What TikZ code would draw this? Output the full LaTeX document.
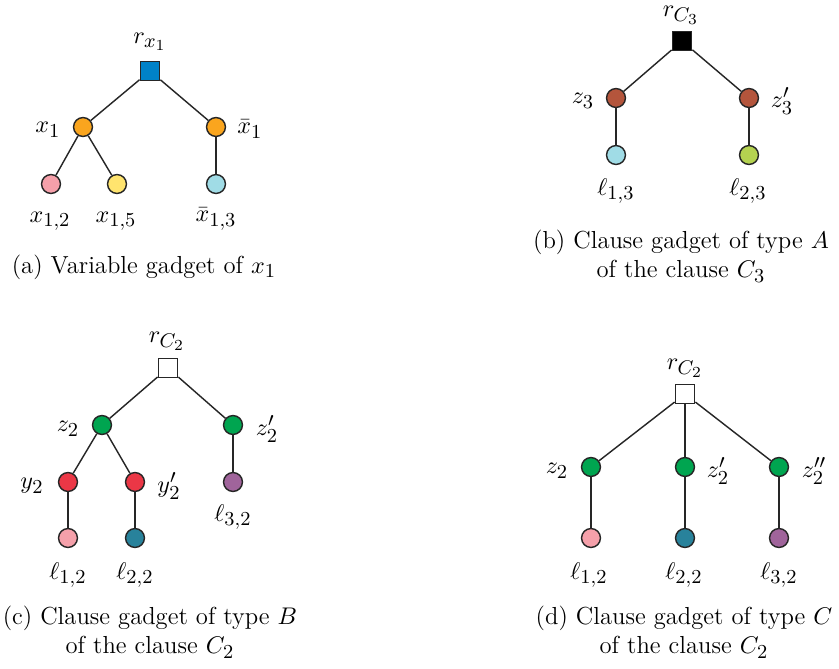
\documentclass[tikz,border=0pt]{standalone}
\usepackage{tikz}
\DeclareMathSizes{11.2}{11.2}{8.6}{6.6}
\begin{document}
\begin{tikzpicture}[x=0.4545pt,y=-0.4545pt,
  font=\fontsize{11.2}{13.5}\selectfont,
  vtxc/.style={circle,draw=black!85,line width=0.65pt,minimum size=8.6pt,inner sep=0pt},
  sq/.style={rectangle,draw=black!85,line width=0.65pt,minimum size=8.8pt,inner sep=0pt},
  conn/.style={draw=black!85,line width=0.65pt},
  lbl/.style={inner sep=0pt},
  capt/.style={align=center,inner sep=0pt}]
\definecolor{cblue}{RGB}{0,130,200}
\definecolor{corange}{RGB}{250,165,30}
\definecolor{cpink}{RGB}{245,160,170}
\definecolor{cyellow}{RGB}{255,228,110}
\definecolor{clblue}{RGB}{160,220,230}
\definecolor{cbrown}{RGB}{180,85,60}
\definecolor{clime}{RGB}{180,210,80}
\definecolor{cgreen}{RGB}{0,165,80}
\definecolor{cred}{RGB}{235,55,70}
\definecolor{cteal}{RGB}{40,130,155}
\definecolor{cpurple}{RGB}{160,100,155}
\useasboundingbox (0,0) rectangle (839,669);
% (a)
\node[sq,fill=cblue] (ar) at (150,71) {};
\node[vtxc,fill=corange] (ax) at (83,127) {};
\node[vtxc,fill=corange] (axb) at (216,127) {};
\node[vtxc,fill=cpink] (a12) at (51,184) {};
\node[vtxc,fill=cyellow] (a15) at (117,184) {};
\node[vtxc,fill=clblue] (a13) at (216,184) {};
\draw[conn] (ar) -- (ax); \draw[conn] (ar) -- (axb);
\draw[conn] (ax) -- (a12); \draw[conn] (ax) -- (a15);
\draw[conn] (axb) -- (a13);
\node[lbl] (lar) at (150,42) {$r_{x_1}$};
\node[lbl] (lax) at (48,130) {$x_1$};
\node[lbl] (laxb) at (250,129) {$\bar{x}_1$};
\node[lbl] (la12) at (50,221) {$x_{1,2}$};
\node[lbl] (la15) at (116,221) {$x_{1,5}$};
\node[lbl] (la13) at (216,219) {$\bar{x}_{1,3}$};
\node[capt] (capa) at (144,267) {(a) Variable gadget of $x_1$};
% (b)
\node[sq,fill=black] (br) at (682,41) {};
\node[vtxc,fill=cbrown] (bz) at (616,98) {};
\node[vtxc,fill=cbrown] (bzp) at (749,98) {};
\node[vtxc,fill=clblue] (b13) at (616,155) {};
\node[vtxc,fill=clime] (b23) at (749,155) {};
\draw[conn] (br) -- (bz); \draw[conn] (br) -- (bzp);
\draw[conn] (bz) -- (b13); \draw[conn] (bzp) -- (b23);
\node[lbl] (lbr) at (681,15) {$r_{C_3}$};
\node[lbl] (lbz) at (583,101) {$z_3$};
\node[lbl] (lbzp) at (782,101) {$z'_3$};
\node[lbl] (lb13) at (616,191) {$\ell_{1,3}$};
\node[lbl] (lb23) at (748,191) {$\ell_{2,3}$};
\node[capt] (capb) at (681,256) {(b) Clause gadget of type $A$\\ of the clause $C_3$};
% (c)
\node[sq,fill=white] (cr) at (168,368) {};
\node[vtxc,fill=cgreen] (cz) at (102,425) {};
\node[vtxc,fill=cgreen] (czp) at (233,425) {};
\node[vtxc,fill=cred] (cy) at (68,482) {};
\node[vtxc,fill=cred] (cyp) at (135,482) {};
\node[vtxc,fill=cpurple] (c32) at (233,482) {};
\node[vtxc,fill=cpink] (c12) at (68,538) {};
\node[vtxc,fill=cteal] (c22) at (135,538) {};
\draw[conn] (cr) -- (cz); \draw[conn] (cr) -- (czp);
\draw[conn] (cz) -- (cy); \draw[conn] (cz) -- (cyp);
\draw[conn] (czp) -- (c32);
\draw[conn] (cy) -- (c12); \draw[conn] (cyp) -- (c22);
\node[lbl] (lcr) at (167,341) {$r_{C_2}$};
\node[lbl] (lcz) at (68,429) {$z_2$};
\node[lbl] (lczp) at (267,429) {$z'_2$};
\node[lbl] (lcy) at (32,486) {$y_2$};
\node[lbl] (lcyp) at (169,486) {$y'_2$};
\node[lbl] (lc32) at (233,517) {$\ell_{3,2}$};
\node[lbl] (lc12) at (68,575) {$\ell_{1,2}$};
\node[lbl] (lc22) at (135,575) {$\ell_{2,2}$};
\node[capt] (capc) at (150,632) {(c) Clause gadget of type $B$\\ of the clause $C_2$};
% (d)
\node[sq,fill=white] (dr) at (685,394) {};
\node[vtxc,fill=cgreen] (dz) at (591,467) {};
\node[vtxc,fill=cgreen] (dzp) at (685,467) {};
\node[vtxc,fill=cgreen] (dzpp) at (779,467) {};
\node[vtxc,fill=cpink] (d12) at (591,538) {};
\node[vtxc,fill=cteal] (d22) at (685,538) {};
\node[vtxc,fill=cpurple] (d32) at (779,538) {};
\draw[conn] (dr) -- (dz); \draw[conn] (dr) -- (dzp); \draw[conn] (dr) -- (dzpp);
\draw[conn] (dz) -- (d12); \draw[conn] (dzp) -- (d22); \draw[conn] (dzpp) -- (d32);
\node[lbl] (ldr) at (685,368) {$r_{C_2}$};
\node[lbl] (ldz) at (557,471) {$z_2$};
\node[lbl] (ldzp) at (718,471) {$z'_2$};
\node[lbl] (ldzpp) at (814,471) {$z''_2$};
\node[lbl] (ld12) at (589,575) {$\ell_{1,2}$};
\node[lbl] (ld22) at (684,575) {$\ell_{2,2}$};
\node[lbl] (ld32) at (779,575) {$\ell_{3,2}$};
\node[capt] (capd) at (684,632) {(d) Clause gadget of type $C$\\ of the clause $C_2$};
\end{tikzpicture}
\end{document}
